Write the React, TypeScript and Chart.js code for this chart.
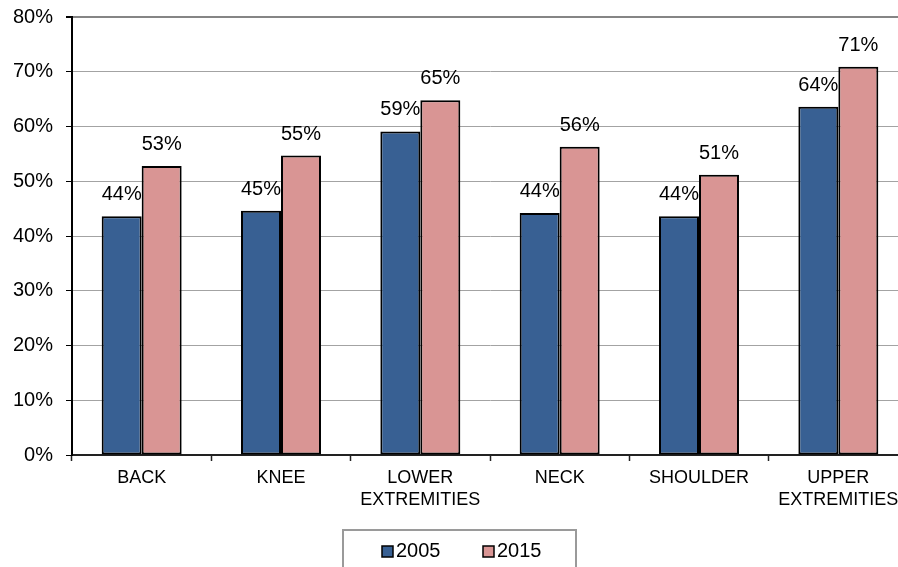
import React, { useEffect, useRef } from "react";
import { Chart, registerables } from "chart.js";

Chart.register(...registerables);

// Body regions and the share reported for each survey year (percent)
const categories: string[][] = [
  ["BACK"],
  ["KNEE"],
  ["LOWER", "EXTREMITIES"],
  ["NECK"],
  ["SHOULDER"],
  ["UPPER", "EXTREMITIES"],
];
const values2005 = [43.6, 44.6, 59.1, 44.2, 43.6, 63.6];
const values2015 = [52.8, 54.7, 64.8, 56.3, 51.2, 70.9];
const seriesNames = ["2005", "2015"];
const yTicks = [0, 10, 20, 30, 40, 50, 60, 70, 80];

const BLUE = "#386093";
const PINK = "#D99594";
const FONT = "'Liberation Sans', Arial, sans-serif";

function drawLabels(chart: any, index: number) {
  const { ctx } = chart;
  const ds = chart.data.datasets[index];
  const meta = chart.getDatasetMeta(index);
  ctx.save();
  ctx.font = `20px ${FONT}`;
  ctx.fillStyle = "#000";
  ctx.textAlign = "center";
  ctx.textBaseline = "alphabetic";
  meta.data.forEach((bar: any, i: number) => {
    ctx.fillText(`${Math.round(ds.data[i])}%`, bar.x, bar.y - 16);
  });
  ctx.restore();
}

// Percent labels above each bar; the 2005 labels go underneath the bars
const valueLabels = {
  id: "valueLabels",
  beforeDatasetsDraw(chart: any) {
    drawLabels(chart, 0);
  },
  afterDatasetsDraw(chart: any) {
    drawLabels(chart, 1);
  },
};

// Boxed legend below the axis labels
const boxedLegend = {
  id: "boxedLegend",
  afterDraw(chart: any) {
    const { ctx } = chart;
    const left = 343;
    const top = 530;
    const width = 233;
    ctx.save();
    ctx.strokeStyle = "#9a9a9a";
    ctx.lineWidth = 2;
    ctx.strokeRect(left, top, width, 60);
    ctx.font = `20px ${FONT}`;
    ctx.textBaseline = "alphabetic";
    ctx.textAlign = "left";
    const colors = [BLUE, PINK];
    const itemX = [382, 483];
    seriesNames.forEach((name, i) => {
      const x = itemX[i];
      ctx.fillStyle = colors[i];
      ctx.fillRect(x, 546, 11, 11);
      ctx.strokeStyle = "#000";
      ctx.lineWidth = 1.5;
      ctx.strokeRect(x, 546, 11, 11);
      ctx.fillStyle = "#000";
      ctx.fillText(name, x + 14, 557);
    });
    ctx.restore();
  },
};

export default function App() {
  const canvasRef = useRef<HTMLCanvasElement | null>(null);

  useEffect(() => {
    if (!canvasRef.current) return;
    const chart = new Chart(canvasRef.current, {
      type: "bar",
      data: {
        labels: categories,
        datasets: [
          {
            label: seriesNames[0],
            data: values2005,
            backgroundColor: BLUE,
            borderColor: "#000",
            borderWidth: 2,
            borderSkipped: false,
            categoryPercentage: 0.574,
            barPercentage: 1,
          },
          {
            label: seriesNames[1],
            data: values2015,
            backgroundColor: PINK,
            borderColor: "#000",
            borderWidth: 2,
            borderSkipped: false,
            categoryPercentage: 0.574,
            barPercentage: 1,
          },
        ],
      },
      options: {
        responsive: false,
        animation: false,
        devicePixelRatio: 1,
        layout: { padding: { top: 17, left: 0, right: 0, bottom: 0 } },
        plugins: {
          legend: { display: false },
          tooltip: { enabled: false },
        },
        scales: {
          x: {
            offset: true,
            afterFit: (scale: any) => {
              scale.height = 112;
              scale.paddingLeft = 0;
              scale.paddingRight = 0;
            },
            grid: {
              offset: true,
              drawOnChartArea: false,
              drawTicks: true,
              tickLength: 6,
              tickColor: "#222",
              tickWidth: 1.5,
            },
            border: { display: true, color: "#222", width: 2 },
            ticks: {
              font: { family: FONT, size: 18, lineHeight: 1.22 },
              color: "#000",
              padding: 6,
              maxRotation: 0,
              autoSkip: false,
            },
          },
          y: {
            min: 0,
            max: 80,
            afterFit: (scale: any) => {
              scale.width = 72;
              scale.paddingTop = 0;
              scale.paddingBottom = 0;
            },
            afterBuildTicks: (scale: any) => {
              scale.ticks = yTicks.map((v) => ({ value: v }));
            },
            grid: {
              drawTicks: true,
              tickLength: 6,
              tickColor: "#000",
              color: (c: any) => (c.tick && c.tick.value === 80 ? "#858585" : "#a3a3a3"),
              lineWidth: (c: any) => (c.tick && c.tick.value === 80 ? 2 : 1),
            },
            border: { display: true, color: "#000", width: 2 },
            ticks: {
              font: { family: FONT, size: 20 },
              color: "#000",
              padding: 13,
              callback: (v: any) => `${v}%`,
            },
          },
        },
      },
      plugins: [valueLabels, boxedLegend],
    } as any);
    return () => chart.destroy();
  }, []);

  return (
    <div
      style={{
        position: "fixed",
        left: 0,
        top: 0,
        width: 898,
        height: 567,
        overflow: "hidden",
        background: "#fff",
      }}
    >
      <canvas ref={canvasRef} width={908} height={567} style={{ display: "block" }} />
    </div>
  );
}
